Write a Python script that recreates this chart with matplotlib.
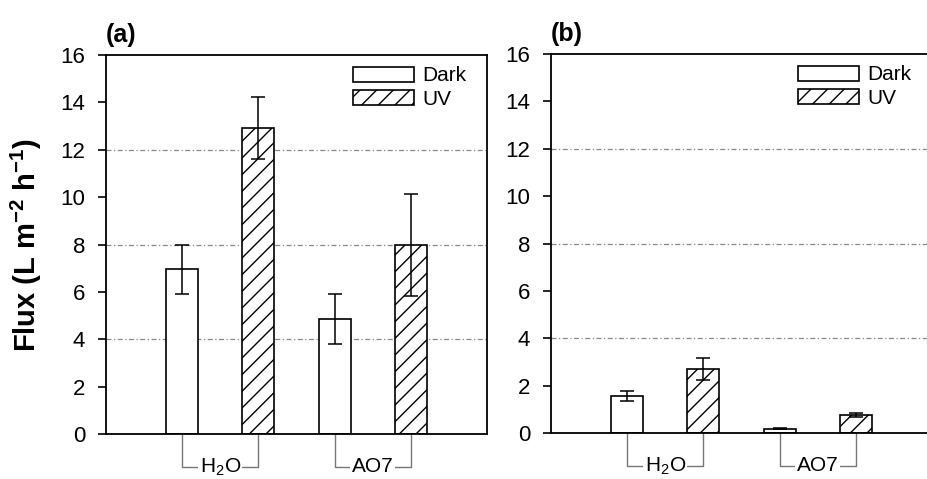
import matplotlib
matplotlib.use("Agg")
import matplotlib.pyplot as plt
import numpy as np

plt.rcParams["font.family"] = ["Liberation Sans", "DejaVu Sans"]
plt.rcParams["mathtext.fontset"] = "custom"
plt.rcParams["mathtext.rm"] = "Liberation Sans"
plt.rcParams["mathtext.bf"] = "Liberation Sans:bold"
plt.rcParams["hatch.linewidth"] = 1.0

groups = ["H$_2$O", "AO7"]
series = ["Dark", "UV"]

# panel (a)
a_dark = [6.95, 4.85]
a_dark_err = [1.03, 1.06]
a_uv = [12.93, 7.98]
a_uv_err = [1.3, 2.15]

# panel (b)
b_dark = [1.57, 0.18]
b_dark_err = [0.2, 0.03]
b_uv = [2.7, 0.76]
b_uv_err = [0.47, 0.08]

yticks = [0, 2, 4, 6, 8, 10, 12, 14, 16]
gridlines = [4, 8, 12]

fig = plt.figure(figsize=(9.28, 4.79), dpi=100)
ax_a = fig.add_axes([0.1142, 0.0939, 0.4106, 0.7912])
ax_b = fig.add_axes([0.5938, 0.0960, 0.4106, 0.7912])


def draw_panel(ax, dark, dark_err, uv, uv_err, tag):
    x_dark = np.array([0, 2])
    x_uv = np.array([1, 3])
    w = 0.42
    for y in gridlines:
        ax.axhline(y, color="#888888", lw=0.9, ls=(0, (4, 2, 1, 2)), zorder=0)
    ax.bar(x_dark, dark, w, color="white", edgecolor="black", lw=1.2,
           label=series[0], zorder=2)
    ax.bar(x_uv, uv, w, color="white", edgecolor="black", lw=1.2,
           hatch="//", label=series[1], zorder=2)
    ax.errorbar(x_dark, dark, yerr=dark_err, fmt="none", ecolor="black",
                elinewidth=1.1, capsize=5, capthick=1.1, zorder=3)
    ax.errorbar(x_uv, uv, yerr=uv_err, fmt="none", ecolor="black",
                elinewidth=1.1, capsize=5, capthick=1.1, zorder=3)

    ax.set_xlim(-1, 4)
    ax.set_ylim(0, 16)
    ax.set_yticks(yticks)
    ax.set_xticks([])
    ax.tick_params(axis="y", direction="out", length=6, width=1.2,
                   labelsize=16, pad=9)
    for s in ax.spines.values():
        s.set_linewidth(1.3)

    # group brackets under the axis
    trans = ax.get_xaxis_transform()
    yb = -0.087
    for i, g in enumerate(groups):
        x0, x1 = x_dark[i], x_uv[i]
        ax.plot([x0, x0, x1, x1], [0, yb, yb, 0], color="#777777", lw=1.0,
                transform=trans, clip_on=False)
        ax.text((x0 + x1) / 2, yb, g, transform=trans, ha="center",
                va="center", fontsize=15,
                bbox=dict(facecolor="white", edgecolor="none", pad=1.0))

    ax.text(0.0, 1.02, tag, transform=ax.transAxes, fontsize=18,
            fontweight="bold", ha="left", va="bottom")
    ax.legend(loc="upper left", bbox_to_anchor=(0.648, 0.97), frameon=False,
              fontsize=15, handlelength=2.93, handleheight=0.75,
              handletextpad=0.4, labelspacing=0.2, borderpad=0,
              borderaxespad=0)


draw_panel(ax_a, a_dark, a_dark_err, a_uv, a_uv_err, "(a)")
draw_panel(ax_b, b_dark, b_dark_err, b_uv, b_uv_err, "(b)")

ax_a.set_ylabel("Flux (L m$^{\\mathbf{-2}}$ h$^{\\mathbf{-1}}$)", fontsize=21,
                fontweight="bold", labelpad=12)

fig.savefig("out.png", dpi=100)
